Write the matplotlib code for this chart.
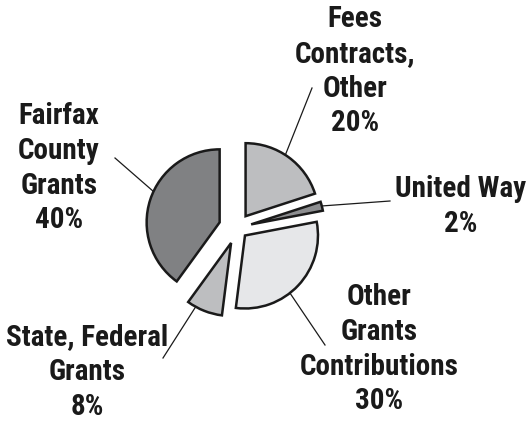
import numpy as np
import matplotlib
matplotlib.use("Agg")
import matplotlib.pyplot as plt
from matplotlib import font_manager as fm

# ---- data ----
categories = ["Fees\nContracts,\nOther", "United Way", "Other\nGrants\nContributions",
              "State, Federal\nGrants", "Fairfax\nCounty\nGrants"]
values = [20, 2, 30, 8, 40]
pct_labels = ["20%", "2%", "30%", "8%", "40%"]
colors = ["#bdbec0", "#8d8e90", "#e6e7e9", "#bdbec0", "#808183"]

# ---- layout (pixel space, y measured from top) ----
W, H = 528, 422
center_img = (237, 228)
radius = 73
explode = [0.2, 0.2, 0.15, 0.22, 0.25]
label_pos = [(355, 27), (461, 197), (379, 305), (87, 345), (59, 124)]
line_step = 34.8
leader_angle = [57, 14.6, -52, 241, 155]
leader_end = [(312, 88), (390, 201), (325, 345), (163, 358), (115, 158)]

# pick a condensed family that actually has a bold face installed
candidates = ["Roboto Condensed", "Archivo Narrow", "PT Sans Narrow", "Pragati Narrow",
              "Fira Sans Condensed", "IBM Plex Sans Condensed", "Barlow Semi Condensed",
              "Liberation Sans"]
def has_bold(name):
    for f in fm.fontManager.ttflist:
        if f.name == name:
            w = f.weight
            if isinstance(w, str):
                w = fm.weight_dict.get(w, 400)
            if w >= 700:
                return True
    return False
family = next((c for c in candidates if has_bold(c)), "DejaVu Sans")

fig = plt.figure(figsize=(W / 100, H / 100), dpi=100)
ax = fig.add_axes([0, 0, 1, 1])
cx, cy = center_img[0], H - center_img[1]
wedges, _ = ax.pie(values, colors=colors, explode=[e * radius for e in explode],
                   startangle=90, counterclock=False, radius=radius, center=(cx, cy),
                   wedgeprops=dict(edgecolor="#1a1a1a", linewidth=1.8))
ax.set_xlim(0, W)
ax.set_ylim(0, H)
ax.set_aspect("equal")
ax.axis("off")

font = dict(family=[family, "DejaVu Sans"], fontweight="bold",
            fontsize=21, color="#1a1a1a")
for w, cat, pct, (lx, ly), ang, (ex, ey) in zip(wedges, categories, pct_labels,
                                                  label_pos, leader_angle, leader_end):
    wx, wy = w.center
    sx = wx + w.r * np.cos(np.radians(ang))
    sy = wy + w.r * np.sin(np.radians(ang))
    ax.plot([sx, ex], [sy, H - ey], color="#1a1a1a", lw=0.9, zorder=0)
    for i, line in enumerate((cat + "\n" + pct).split("\n")):
        ax.text(lx, H - (ly + i * line_step), line, ha="center", va="baseline", **font)

fig.savefig("out.png", dpi=100)
